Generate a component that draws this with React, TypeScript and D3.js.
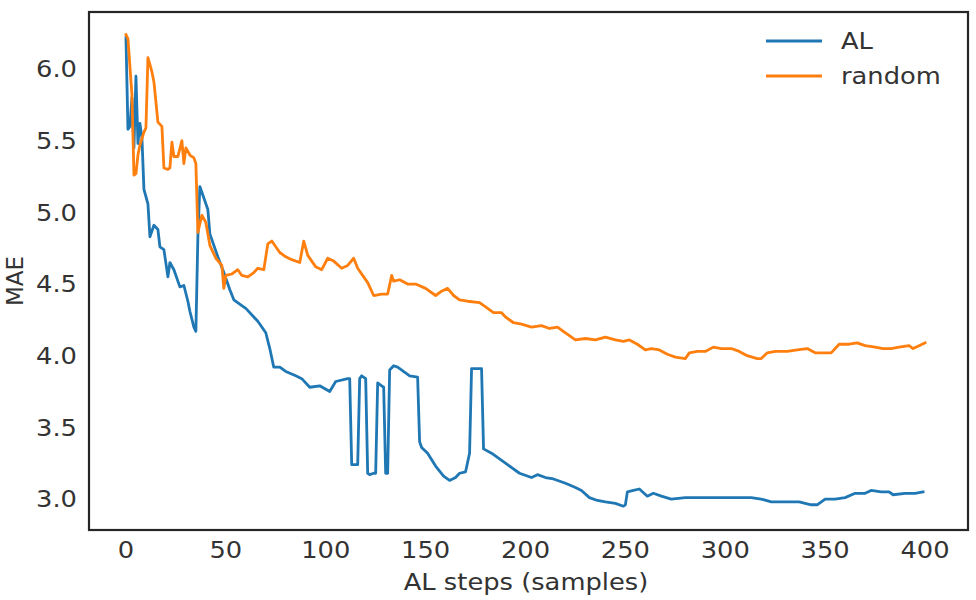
import * as d3 from "d3";
import React, { useEffect, useRef } from "react";

// AL curve (step, MAE)
const alSteps = [
  0, 1, 2, 3, 4, 5, 6, 7, 8, 9, 11, 12, 14, 16, 17, 19, 21, 22, 24, 27, 29, 31,
  32, 34, 35, 36, 37, 38, 41, 42, 46, 49, 52, 54, 58, 60, 64, 66, 70, 72, 74,
  77, 80, 85, 88, 92, 97, 102, 105, 111, 112, 113, 116, 117, 118, 120, 121,
  122, 124, 125, 126, 128, 129, 130, 131, 132, 134, 136, 142, 146, 147, 148,
  151, 155, 159, 162, 165, 167, 170, 172, 173, 178, 179, 183, 187, 191, 197,
  203, 206, 210, 214, 220, 225, 228, 232, 236, 240, 245, 249, 250, 251, 254,
  257, 261, 264, 268, 273, 280, 287, 300, 313, 318, 323, 330, 337, 343, 346,
  350, 355, 360, 365, 370, 373, 378, 382, 384, 390, 395, 399,
];
const alMae = [
  6.22, 5.58, 5.6, 5.8, 5.45, 5.95, 5.48, 5.62, 5.52, 5.16, 5.06, 4.83, 4.91,
  4.88, 4.76, 4.74, 4.55, 4.65, 4.6, 4.48, 4.49, 4.38, 4.31, 4.2, 4.17, 4.83,
  5.18, 5.14, 5.02, 4.85, 4.69, 4.58, 4.46, 4.39, 4.35, 4.33, 4.27, 4.24, 4.16,
  4.05, 3.92, 3.92, 3.89, 3.86, 3.84, 3.78, 3.79, 3.75, 3.82, 3.84, 3.84, 3.24,
  3.24, 3.84, 3.86, 3.84, 3.18, 3.17, 3.18, 3.18, 3.81, 3.79, 3.78, 3.18, 3.18,
  3.9, 3.93, 3.92, 3.86, 3.85, 3.4, 3.36, 3.32, 3.23, 3.16, 3.13, 3.15, 3.18,
  3.19, 3.32, 3.91, 3.91, 3.35, 3.32, 3.28, 3.24, 3.18, 3.15, 3.17, 3.15, 3.14,
  3.11, 3.08, 3.06, 3.01, 2.99, 2.98, 2.97, 2.95, 2.96, 3.05, 3.06, 3.07, 3.02,
  3.04, 3.02, 3.0, 3.01, 3.01, 3.01, 3.01, 3.0, 2.98, 2.98, 2.98, 2.96, 2.96,
  3.0, 3.0, 3.01, 3.04, 3.04, 3.06, 3.05, 3.05, 3.03, 3.04, 3.04, 3.05,
];

// random curve
const randomSteps = [
  0, 1, 3, 4, 5, 6, 7, 9, 10, 11, 12, 13, 14, 16, 18, 19, 21, 22, 23, 24, 26,
  28, 29, 30, 32, 34, 35, 36, 38, 40, 42, 45, 48, 49, 50, 53, 56, 58, 61, 64,
  66, 69, 71, 73, 77, 80, 83, 87, 89, 91, 95, 98, 101, 104, 108, 111, 114, 116,
  119, 121, 124, 128, 131, 133, 134, 137, 141, 145, 150, 155, 158, 161, 164,
  167, 171, 177, 180, 184, 188, 190, 194, 198, 203, 208, 212, 216, 220, 225,
  230, 235, 240, 245, 249, 252, 256, 260, 263, 267, 271, 275, 280, 282, 286,
  290, 294, 298, 303, 307, 311, 316, 318, 321, 325, 331, 336, 341, 345, 349,
  353, 357, 362, 366, 370, 375, 379, 383, 387, 392, 394, 397, 400,
];
const randomMae = [
  6.24, 6.21, 5.82, 5.26, 5.27, 5.4, 5.47, 5.56, 5.59, 6.08, 6.03, 5.98, 5.91,
  5.63, 5.6, 5.31, 5.3, 5.31, 5.49, 5.39, 5.39, 5.5, 5.34, 5.45, 5.4, 5.38,
  5.34, 4.86, 4.98, 4.93, 4.77, 4.68, 4.63, 4.47, 4.56, 4.57, 4.6, 4.56, 4.55,
  4.58, 4.61, 4.6, 4.78, 4.8, 4.72, 4.69, 4.67, 4.65, 4.8, 4.7, 4.62, 4.6, 4.68,
  4.66, 4.61, 4.63, 4.68, 4.61, 4.55, 4.51, 4.42, 4.43, 4.43, 4.56, 4.52, 4.53,
  4.5, 4.5, 4.47, 4.42, 4.45, 4.47, 4.42, 4.39, 4.38, 4.37, 4.34, 4.3, 4.3,
  4.27, 4.23, 4.22, 4.2, 4.21, 4.19, 4.2, 4.16, 4.11, 4.12, 4.11, 4.13, 4.11,
  4.1, 4.11, 4.08, 4.04, 4.05, 4.04, 4.01, 3.99, 3.98, 4.02, 4.03, 4.03, 4.06,
  4.05, 4.05, 4.03, 4.0, 3.98, 3.98, 4.02, 4.03, 4.03, 4.04, 4.05, 4.02, 4.02,
  4.02, 4.08, 4.08, 4.09, 4.07, 4.06, 4.05, 4.05, 4.06, 4.07, 4.05, 4.07, 4.09,
];

const xTicks = [0, 50, 100, 150, 200, 250, 300, 350, 400];
const yTicks = [3.0, 3.5, 4.0, 4.5, 5.0, 5.5, 6.0];
const seriesNames = ["AL", "random"];
const seriesColors = ["#1f77b4", "#ff7f0e"];

const App: React.FC = () => {
  const ref = useRef<SVGSVGElement | null>(null);

  useEffect(() => {
    const width = 976;
    const height = 600;
    const left = 89,
      right = 968,
      top = 12,
      bottom = 530;
    const font = "DejaVu Sans, sans-serif";
    const fontSize = 23;
    const textColor = "#333333";
    const stretch = 1.12; // the source picture is a bit wider than tall

    const svg = d3.select(ref.current);
    svg.selectAll("*").remove();
    svg.attr("width", width).attr("height", height);

    const x = d3.scaleLinear().domain([-18.5, 421.5]).range([left, right]);
    const y = d3.scaleLinear().domain([2.784, 6.398]).range([bottom, top]);

    svg
      .append("rect")
      .attr("width", width)
      .attr("height", height)
      .attr("fill", "#ffffff");

    svg
      .append("clipPath")
      .attr("id", "plot-clip")
      .append("rect")
      .attr("x", left)
      .attr("y", top)
      .attr("width", right - left)
      .attr("height", bottom - top);

    const line = d3
      .line<[number, number]>()
      .x((d) => x(d[0]))
      .y((d) => y(d[1]));

    const series: [number, number][][] = [
      alSteps.map((s, i) => [s, alMae[i]]),
      randomSteps.map((s, i) => [s, randomMae[i]]),
    ];

    const plot = svg.append("g").attr("clip-path", "url(#plot-clip)");
    series.forEach((pts, i) => {
      plot
        .append("path")
        .attr("d", line(pts))
        .attr("fill", "none")
        .attr("stroke", seriesColors[i])
        .attr("stroke-width", 2.8)
        .attr("stroke-linejoin", "round")
        .attr("stroke-linecap", "square");
    });

    // frame
    svg
      .append("rect")
      .attr("x", left)
      .attr("y", top)
      .attr("width", right - left)
      .attr("height", bottom - top)
      .attr("fill", "none")
      .attr("stroke", "#262626")
      .attr("stroke-width", 2.2);

    const label = (
      g: d3.Selection<any, any, any, any>,
      tx: number,
      ty: number,
      anchor: string,
      txt: string,
    ) =>
      g
        .append("text")
        .attr("transform", `translate(${tx},${ty}) scale(${stretch},1)`)
        .attr("text-anchor", anchor)
        .attr("font-family", font)
        .attr("font-size", fontSize)
        .attr("fill", textColor)
        .text(txt);

    // x tick labels
    const xg = svg.append("g");
    xTicks.forEach((d) => label(xg, x(d), 558, "middle", String(d)));

    // y tick labels
    const yg = svg.append("g");
    yTicks.forEach((d) =>
      label(yg, 77, y(d), "end", d.toFixed(1)).attr("dy", "0.36em"),
    );

    // axis titles
    label(svg, 526, 590, "middle", "AL steps (samples)");

    svg
      .append("text")
      .attr("transform", "translate(23, 281) rotate(-90)")
      .attr("text-anchor", "middle")
      .attr("font-family", font)
      .attr("font-size", fontSize)
      .attr("fill", textColor)
      .text("MAE");

    // legend
    const legend = svg.append("g").attr("transform", "translate(766, 41)");
    seriesNames.forEach((name, i) => {
      const row = legend.append("g").attr("transform", `translate(0, ${i * 35})`);
      row
        .append("line")
        .attr("x1", 0)
        .attr("x2", 56)
        .attr("y1", 0)
        .attr("y2", 0)
        .attr("stroke", seriesColors[i])
        .attr("stroke-width", 2.8);
      label(row, 75, 0, "start", name).attr("dy", "0.36em");
    });
  }, []);

  return (
    <svg
      ref={ref}
      style={{ position: "absolute", left: 0, top: 0, display: "block" }}
    />
  );
};

export default App;
